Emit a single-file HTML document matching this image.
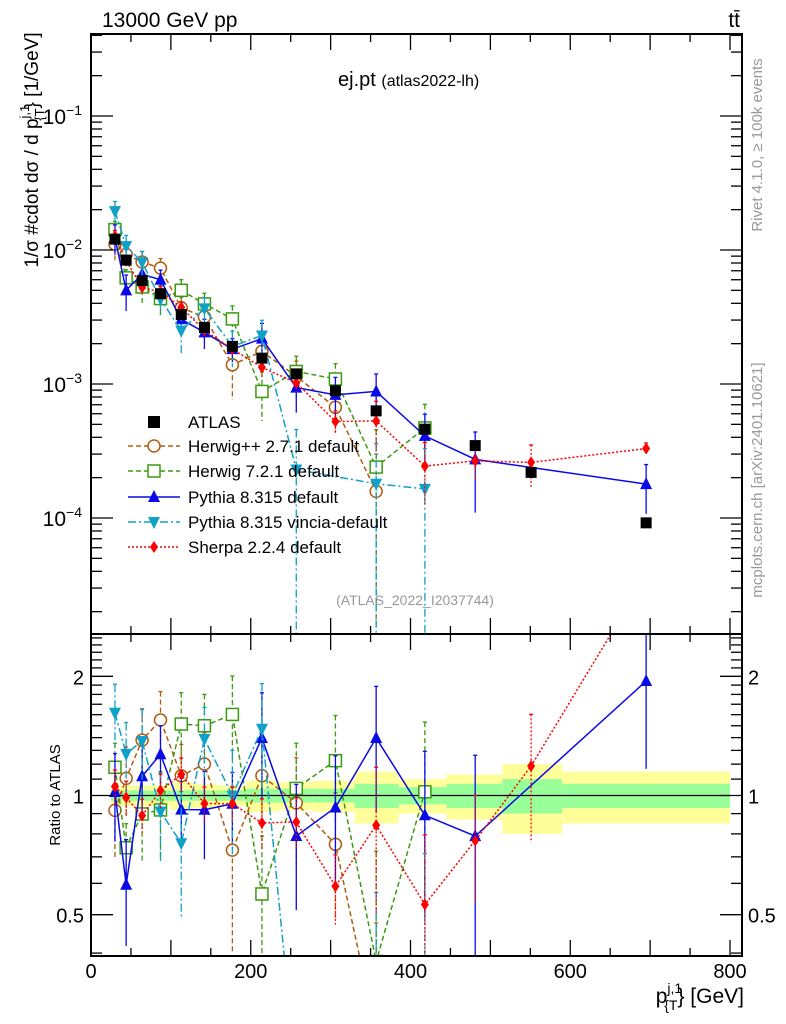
<!DOCTYPE html>
<html><head><meta charset="utf-8">
<style>
html,body{margin:0;padding:0;background:#fff;width:786px;height:1024px;overflow:hidden;position:relative;}
svg{display:block;font-family:"Liberation Sans",Arial,sans-serif;}
</style></head>
<body>
<svg id="chart" width="786" height="1024" viewBox="0 0 786 1024" style="position:absolute;left:0;top:0"></svg>
<script>
// ---- data ----
const binCenters = [30,44,64,87,113,142,177,214,257,306,357,418,481,551,695];
const binEdges = [25,37,52,75,100,126,158,195,235,277,330,385,445,515,590,800];
const atlas = [1.205e-2,8.4e-3,5.9e-3,4.72e-3,3.30e-3,2.64e-3,1.91e-3,1.56e-3,1.19e-3,8.9e-4,6.3e-4,4.6e-4,3.47e-4,2.19e-4,9.2e-5];
const bandInner = [0.03,0.03,0.03,0.03,0.03,0.03,0.03,0.04,0.04,0.04,0.07,0.05,0.07,0.10,0.07];
const bandOuter = [0.06,0.06,0.06,0.06,0.08,0.07,0.06,0.09,0.08,0.09,0.15,0.10,0.13,0.20,0.15];
const herwigpp = [1.105e-2,9.28e-3,8.14e-3,7.32e-3,3.70e-3,3.17e-3,1.39e-3,1.75e-3,1.14e-3,6.7e-4,1.58e-4,null,null,null,null];
const herwigppErr = [0.25,0.2,0.2,0.18,0.2,0.2,0.45,0.25,0.3,0.35,0.9,0,0,0,0];
const herwig7 = [1.42e-2,6.2e-3,5.3e-3,4.34e-3,5.0e-3,3.96e-3,3.06e-3,8.8e-4,1.24e-3,1.09e-3,2.4e-4,4.7e-4,null,null,null];
const herwig7Err = [0.15,0.15,0.25,0.25,0.2,0.2,0.25,0.4,0.3,0.3,0.9,0.5,0,0,0];
const pythia = [1.23e-2,5.0e-3,6.6e-3,6.0e-3,3.04e-3,2.43e-3,1.82e-3,2.18e-3,9.4e-4,8.3e-4,8.8e-4,4.1e-4,2.74e-4,null,1.79e-4];
const pythiaErr = [0.25,0.3,0.2,0.18,0.2,0.25,0.2,0.3,0.35,0.35,0.35,0.45,0.6,0,0.4];
const vincia = [1.95e-2,1.07e-2,8.1e-3,4.3e-3,2.5e-3,3.67e-3,1.91e-3,2.3e-3,2.3e-4,null,1.8e-4,1.65e-4,null,null,null];
const vinciaErr = [0.18,0.2,0.2,0.25,0.35,0.2,0.3,0.3,0.99,0,0.99,0.99,0,0,0];
const sherpa = [1.27e-2,8.3e-3,5.25e-3,4.86e-3,3.73e-3,2.52e-3,1.82e-3,1.33e-3,1.02e-3,5.25e-4,5.3e-4,2.44e-4,2.67e-4,2.6e-4,3.3e-4];
const sherpaErr = [0.1,0.1,0.1,0.1,0.1,0.1,0.1,0.15,0.15,0.2,0.4,0.5,0.3,0.35,0.1];
const xTicks = [0,200,400,600,800];
const yDecades = [-4,-3,-2,-1];
const rTicks = [0.5,1,2];

// ---- geometry ----
const L=91,R=742,T=34,MB=634,RB=956;
const X=v=>91+v*(730-91)/800;
const Y=v=>116+134*(-1-Math.log10(v));
const RY=r=>795.5-396*Math.log10(r);
const NS="http://www.w3.org/2000/svg";
const svg=document.getElementById('chart');
function el(tag,attrs,parent){const e=document.createElementNS(NS,tag);for(const k in attrs)e.setAttribute(k,attrs[k]);(parent||svg).appendChild(e);return e;}
el('defs',{}).innerHTML='<clipPath id="cm"><rect x="91" y="34" width="651" height="600"/></clipPath><clipPath id="cr"><rect x="91" y="634" width="651" height="322"/></clipPath>';
const gMain=el('g',{'clip-path':'url(#cm)'});


const gRat=el('g',{'clip-path':'url(#cr)'});


const clampY=(y,lo,hi)=>Math.max(lo,Math.min(hi,y));
// clip segment to y range [lo,hi]
function clipSeg(x1,y1,x2,y2,lo,hi){
  let t0=0,t1=1;const dy=y2-y1;
  if(dy===0){if(y1<lo||y1>hi)return null;}
  else{
    let ta=(lo-y1)/dy,tb=(hi-y1)/dy;if(ta>tb){const t=ta;ta=tb;tb=t;}
    t0=Math.max(t0,ta);t1=Math.min(t1,tb);if(t0>t1)return null;
  }
  return [x1+(x2-x1)*t0,y1+dy*t0,x1+(x2-x1)*t1,y1+dy*t1];
}

// band
for(let i=0;i<atlas.length;i++){
  const x0=X(binEdges[i]),x1=X(binEdges[i+1]);
  const o=el('rect',{x:x0,y:RY(1+bandOuter[i]),width:x1-x0,height:RY(1-bandOuter[i])-RY(1+bandOuter[i]),fill:'#ffff99'},gRat);
  
  
  const n=el('rect',{x:x0,y:RY(1+bandInner[i]),width:x1-x0,height:RY(1-bandInner[i])-RY(1+bandInner[i]),fill:'#99ff99'},gRat);
  
  
}
el('line',{x1:X(binEdges[0]),x2:X(800),y1:RY(1),y2:RY(1),stroke:'#000','stroke-width':1.2},gRat);

function marker(g,type,x,y,c){
  let m;
  if(type==='sq')m=el('rect',{x:x-5.5,y:y-5.5,width:11,height:11,fill:'#000'},g);
  else if(type==='osq')m=el('rect',{x:x-6,y:y-6,width:12,height:12,fill:'#fff',stroke:c,'stroke-width':1.5},g);
  else if(type==='oc')m=el('circle',{cx:x,cy:y,r:6,fill:'#fff',stroke:c,'stroke-width':1.5},g);
  else if(type==='tu')m=el('path',{d:`M${x} ${y-7}L${x+6} ${y+5}L${x-6} ${y+5}Z`,fill:c},g);
  else if(type==='td')m=el('path',{d:`M${x} ${y+7}L${x+6} ${y-5}L${x-6} ${y-5}Z`,fill:c},g);
  else m=el('path',{d:`M${x} ${y-6}L${x+4} ${y}L${x} ${y+6}L${x-4} ${y}Z`,fill:c},g);
  return m;
}
const series=[
 {name:'herwigpp',vals:herwigpp,err:herwigppErr,c:'#b05c10',dash:'5,3',m:'oc'},
 {name:'herwig7',vals:herwig7,err:herwig7Err,c:'#3a9a10',dash:'5,3',m:'osq'},
 {name:'pythia',vals:pythia,err:pythiaErr,c:'#0a0ae8',dash:'',m:'tu'},
 {name:'vincia',vals:vincia,err:vinciaErr,c:'#10a0c8',dash:'8,3,2,3',m:'td'},
 {name:'sherpa',vals:sherpa,err:sherpaErr,c:'#ff0000',dash:'2,2',m:'dia'}
];
series.forEach(s=>{
  [[gMain,v=>v,Y,T,MB],[gRat,(v,i)=>v/atlas[i],RY,MB,RB]].forEach(([g,f,yf,lo,hi])=>{
    const sg=el('g',{},g);
    
    
    let pts=[];
    s.vals.forEach((v,i)=>{if(v!=null)pts.push([X(binCenters[i]),yf(f(v,i)),i]);});
    let d='';let lastEnd=null;
    for(let k=0;k<pts.length-1;k++){
      const c=clipSeg(pts[k][0],pts[k][1],pts[k+1][0],pts[k+1][1],lo,hi);
      if(!c)continue;
      if(!lastEnd||Math.abs(lastEnd[0]-c[0])>0.01||Math.abs(lastEnd[1]-c[1])>0.01)d+=`M${c[0].toFixed(2)} ${c[1].toFixed(2)}`;
      d+=`L${c[2].toFixed(2)} ${c[3].toFixed(2)}`;lastEnd=[c[2],c[3]];
    }
    if(d)el('path',{d:d,fill:'none',stroke:s.c,'stroke-width':1.5,'stroke-dasharray':s.dash},sg);
    pts.forEach(p=>{
      const i=p[2],v=f(s.vals[i],i),e=s.err[i];
      const yl=clampY(yf(v*(1+e)),lo,hi),yh=clampY(yf(Math.max(v*(1-e),1e-9)),lo,hi);
      if(yh>yl) el('line',{x1:p[0],x2:p[0],y1:yl,y2:yh,stroke:s.c,'stroke-width':1.3,'stroke-dasharray':s.dash},sg);
      if(yl>lo&&yl<hi) el('line',{x1:p[0]-2,x2:p[0]+2,y1:yl,y2:yl,stroke:s.c,'stroke-width':1.3},sg);
      if(p[1]>=lo-8&&p[1]<=hi+8){
        const mk=marker(sg,s.m,p[0],p[1],s.c);
        
        
      }
    });
  });
});
// atlas points
atlas.forEach((v,i)=>{
  const m=marker(gMain,'sq',X(binCenters[i]),Y(v),'#000');
  
  
});

// frames
el('rect',{x:L,y:T,width:R-L,height:MB-T,fill:'none',stroke:'#000','stroke-width':2});
el('rect',{x:L,y:MB,width:R-L,height:RB-MB,fill:'none',stroke:'#000','stroke-width':2});
// x ticks
for(let v=0;v<=850;v+=50){
  const big=v%100===0,len=big?16:8;
  if(X(v)>R)break;
  [T,MB,RB].forEach(y0=>{
    if(y0===T||y0===MB) el('line',{x1:X(v),x2:X(v),y1:y0,y2:y0+len,stroke:'#000','stroke-width':1.3});
    if(y0===MB||y0===RB) el('line',{x1:X(v),x2:X(v),y1:y0,y2:y0-len,stroke:'#000','stroke-width':1.3});
  });
}
xTicks.forEach(v=>{
  const t=el('text',{x:X(v),y:978,'font-size':20,'text-anchor':'middle'});t.textContent=v;
  
  
});
// y ticks main
for(let d=-5;d<=0;d++){for(let k=1;k<10;k++){
  const y=Y(k*Math.pow(10,d));if(y<T||y>MB)continue;
  const len=k===1?22:11;
  el('line',{x1:L,x2:L+len,y1:y,y2:y,stroke:'#000','stroke-width':1.3});
  el('line',{x1:R,x2:R-len,y1:y,y2:y,stroke:'#000','stroke-width':1.3});
}}
yDecades.forEach(d=>{
  const t=el('text',{x:82,y:Y(Math.pow(10,d))+8,'font-size':21,'text-anchor':'end'});
  t.innerHTML='10<tspan dy="-9" font-size="14">−'+(-d)+'</tspan>';
  
  
});
// ratio ticks
[0.4,0.5,0.6,0.7,0.8,0.9,1,1.1,1.2,1.3,1.4,1.5,1.6,1.7,1.8,1.9,2,2.1,2.2,2.3,2.4,2.5].forEach(r=>{
  const y=RY(r);if(y<MB||y>RB)return;
  const len=rTicks.includes(r)?22:11;
  el('line',{x1:L,x2:L+len,y1:y,y2:y,stroke:'#000','stroke-width':1.3});
  el('line',{x1:R,x2:R-len,y1:y,y2:y,stroke:'#000','stroke-width':1.3});
});
rTicks.forEach(r=>{
  const a=el('text',{x:84,y:RY(r)+8,'font-size':20,'text-anchor':'end'});a.textContent=r;
  
  
  const b=el('text',{x:748,y:RY(r)+8,'font-size':20}); b.textContent=r;
  
  
});
</script>
<svg width="786" height="1024" style="position:absolute;left:0;top:0">
<text x="102" y="27" font-size="21" font-family="Liberation Sans,sans-serif">13000 GeV pp</text>
<text x="740" y="27" font-size="21" text-anchor="end" font-family="Liberation Sans,sans-serif">tt̄</text>
<text x="338" y="86" font-size="20" font-family="Liberation Sans,sans-serif">ej.pt <tspan font-size="16">(atlas2022-lh)</tspan></text>
<text x="415" y="605" font-size="14" fill="#999" text-anchor="middle" font-family="Liberation Sans,sans-serif">(ATLAS_2022_I2037744)</text>
<text transform="translate(38,150) rotate(-90)" font-size="19" text-anchor="middle" font-family="Liberation Sans,sans-serif">1/σ #cdot dσ / d p<tspan dy="-9" font-size="13">j,1</tspan><tspan dy="15" dx="-16" font-size="13">{T</tspan><tspan dy="-6">} [1/GeV]</tspan></text>
<text transform="translate(60,795) rotate(-90)" font-size="15" text-anchor="middle" font-family="Liberation Sans,sans-serif">Ratio to ATLAS</text>
<text x="744" y="1003" font-size="21" text-anchor="end" font-family="Liberation Sans,sans-serif">p<tspan dy="-10" font-size="14">j,1</tspan><tspan dy="17" dx="-18" font-size="14">{T</tspan><tspan dy="-7">} [GeV]</tspan></text>
<text transform="translate(762,145) rotate(-90)" font-size="15" fill="#999" text-anchor="middle" font-family="Liberation Sans,sans-serif">Rivet 4.1.0, ≥ 100k events</text>
<text transform="translate(762,480) rotate(-90)" font-size="15" fill="#999" text-anchor="middle" font-family="Liberation Sans,sans-serif">mcplots.cern.ch [arXiv:2401.10621]</text>
<g font-family="Liberation Sans,sans-serif" font-size="17">
<g><rect x="148" y="416" width="12" height="12" fill="#000"/><text x="188" y="428">ATLAS</text></g>
<g><line x1="128" x2="180" y1="446" y2="446" stroke="#b05c10" stroke-width="1.5" stroke-dasharray="5,3"/><circle cx="154" cy="446" r="6" fill="#fff" stroke="#b05c10" stroke-width="1.5"/><text x="188" y="452">Herwig++ 2.7.1 default</text></g>
<g><line x1="128" x2="180" y1="471" y2="471" stroke="#3a9a10" stroke-width="1.5" stroke-dasharray="5,3"/><rect x="148" y="465" width="12" height="12" fill="#fff" stroke="#3a9a10" stroke-width="1.5"/><text x="188" y="477">Herwig 7.2.1 default</text></g>
<g><line x1="128" x2="180" y1="497" y2="497" stroke="#0a0ae8" stroke-width="1.5"/><path d="M154 490L160 502L148 502Z" fill="#0a0ae8"/><text x="188" y="503">Pythia 8.315 default</text></g>
<g><line x1="128" x2="180" y1="522" y2="522" stroke="#10a0c8" stroke-width="1.5" stroke-dasharray="8,3,2,3"/><path d="M154 529L160 517L148 517Z" fill="#10a0c8"/><text x="188" y="528">Pythia 8.315 vincia-default</text></g>
<g><line x1="128" x2="180" y1="547" y2="547" stroke="#ff0000" stroke-width="1.5" stroke-dasharray="2,2"/><path d="M154 541L158 547L154 553L150 547Z" fill="#ff0000"/><text x="188" y="553">Sherpa 2.2.4 default</text></g>
</g>
</svg>
</body></html>
